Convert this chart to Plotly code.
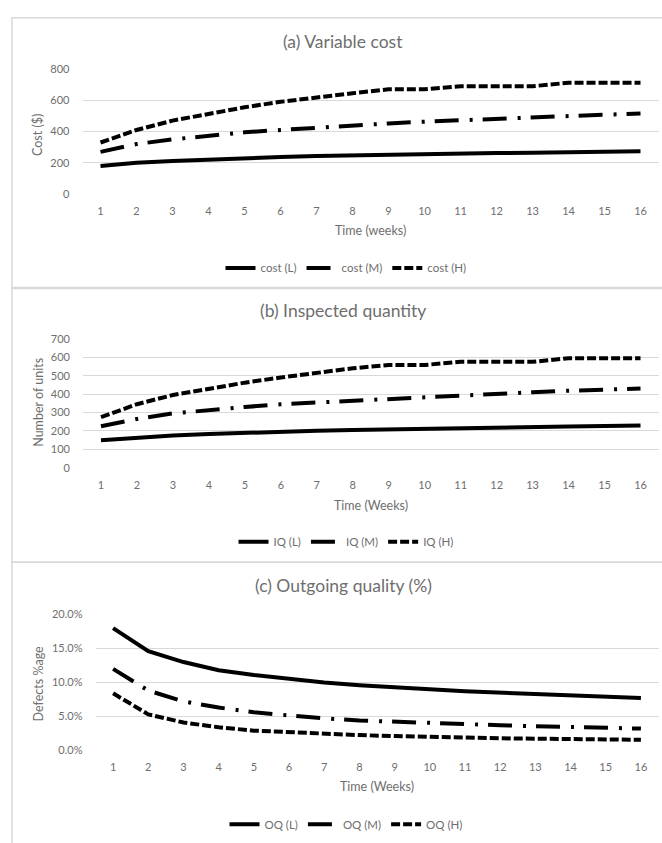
import plotly.graph_objects as go

W, H = 662, 843

weeks = list(range(1, 17))

cost_L = [180, 200, 212, 222, 230, 237, 243, 248, 252, 256, 259, 262, 265, 268, 271, 274]
cost_M = [270, 320, 350, 375, 395, 410, 425, 440, 452, 463, 473, 483, 492, 500, 508, 515]
cost_H = [330, 410, 470, 515, 555, 590, 620, 645, 670, 670, 690, 690, 690, 712, 712, 712]

iq_L = [150, 165, 175, 183, 190, 196, 201, 205, 209, 212, 215, 218, 221, 224, 227, 230]
iq_M = [225, 265, 295, 315, 330, 345, 355, 365, 375, 385, 395, 403, 410, 418, 425, 430]
iq_H = [275, 345, 395, 430, 462, 490, 515, 540, 558, 558, 575, 575, 575, 595, 595, 595]

oq_L = [0.180, 0.146, 0.130, 0.118, 0.111, 0.105, 0.100, 0.096, 0.0925, 0.090, 0.087, 0.085, 0.083, 0.081, 0.079, 0.077]
oq_M = [0.120, 0.088, 0.072, 0.063, 0.056, 0.051, 0.047, 0.044, 0.042, 0.040, 0.0385, 0.037, 0.0355, 0.034, 0.033, 0.032]
oq_H = [0.084, 0.053, 0.041, 0.034, 0.029, 0.0265, 0.0245, 0.0225, 0.021, 0.0195, 0.0185, 0.0178, 0.0172, 0.0165, 0.016, 0.0155]

FONT = "Lato"
GREY = "#6e6e6e"
GRID = "#d9d9d9"


def fx(p):
    return p / W


def fy(p):
    return 1 - p / H


panels = [
    dict(ax="", title="(a) Variable cost", ytitle="Cost ($)", xtitle="Time (weeks)",
         names=["cost (L)", "cost (M)", "cost (H)"], data=[cost_L, cost_M, cost_H],
         x0=82.5, x1=658.5, y0=63, y1=190, yr=[0, 800], dt=200, fmt="",
         t_y=35, xt_y=227, yt_x=38, yt_y=130, leg_y=265, box=(11, 285)),
    dict(ax="2", title="(b) Inspected quantity", ytitle="Number of units", xtitle="Time (Weeks)",
         names=["IQ (L)", "IQ (M)", "IQ (H)"], data=[iq_L, iq_M, iq_H],
         x0=83, x1=658.5, y0=337, y1=468, yr=[0, 700], dt=100, fmt="",
         t_y=308, xt_y=506, yt_x=39, yt_y=402, leg_y=543, box=(286, 564)),
    dict(ax="3", title="(c) Outgoing quality (%)", ytitle="Defects %age", xtitle="Time (Weeks)",
         names=["OQ (L)", "OQ (M)", "OQ (H)"], data=[oq_L, oq_M, oq_H],
         x0=95.5, x1=658.5, y0=617, y1=755, yr=[0, 0.2], dt=0.05, fmt=".1%",
         t_y=588, xt_y=792, yt_x=38, yt_y=688, leg_y=830, box=(564, 860)),
]

dashes = ["solid", "24px,11px,3px,10px", "9px,3px"]

fig = go.Figure()
annotations = []
shapes = []
layout = {}

for p in panels:
    ax = p["ax"]
    leg = "legend" + ax
    for name, vals, dash in zip(p["names"], p["data"], dashes):
        fig.add_trace(go.Scatter(
            x=weeks, y=vals, name=name, mode="lines",
            line=dict(color="black", width=4, dash=dash),
            xaxis="x" + ax, yaxis="y" + ax, legend=leg,
        ))
    layout["xaxis" + ax] = dict(
        domain=[fx(p["x0"]), fx(p["x1"])], range=[0.5, 16.5],
        tickmode="array", tickvals=weeks, ticktext=[str(w) for w in weeks],
        showgrid=False, zeroline=False, showline=False, ticks="",
        tickfont=dict(family=FONT, size=11, color=GREY),
        anchor="y" + ax, fixedrange=True, ticklabelstandoff=9,
    )
    layout["yaxis" + ax] = dict(
        domain=[fy(p["y1"]), fy(p["y0"])], range=p["yr"], dtick=p["dt"], tick0=0,
        tickformat=p["fmt"], showgrid=True, gridcolor=GRID, gridwidth=1,
        zeroline=False, showline=False, ticks="",
        tickfont=dict(family=FONT, size=11, color=GREY),
        anchor="x" + ax, fixedrange=True, ticklabelstandoff=12,
    )
    layout[leg] = dict(
        orientation="h", x=fx(346), xanchor="center", y=fy(p["leg_y"]), yanchor="middle",
        font=dict(family=FONT, size=11.5, color=GREY), bgcolor="rgba(0,0,0,0)",
        traceorder="normal", itemwidth=30,
    )
    annotations.append(dict(
        text=p["title"], x=fx(343), y=fy(p["t_y"]), xref="paper", yref="paper",
        xanchor="center", yanchor="middle", showarrow=False,
        font=dict(family=FONT, size=17.5, color=GREY),
    ))
    annotations.append(dict(
        text=p["xtitle"], x=fx((p["x0"] + p["x1"]) / 2), y=fy(p["xt_y"]), xref="paper", yref="paper",
        xanchor="center", yanchor="middle", showarrow=False,
        font=dict(family=FONT, size=12.5, color=GREY),
    ))
    annotations.append(dict(
        text=p["ytitle"], x=fx(p["yt_x"]), y=fy(p["yt_y"]), xref="paper", yref="paper",
        xanchor="center", yanchor="middle", showarrow=False, textangle=-90,
        font=dict(family=FONT, size=12.5, color=GREY),
    ))
    b0, b1 = p["box"]
    shapes.append(dict(
        type="rect", xref="paper", yref="paper",
        x0=fx(12), x1=fx(700), y0=fy(b1), y1=fy(b0),
        line=dict(color=GRID, width=1.5), fillcolor="rgba(0,0,0,0)", layer="below",
    ))

fig.update_layout(
    width=W, height=H, margin=dict(l=0, r=0, t=0, b=0),
    paper_bgcolor="white", plot_bgcolor="white",
    annotations=annotations, shapes=shapes, **layout,
)

fig.write_html("out.html", config={"displayModeBar": False},
               post_script="document.body.style.margin='0';")
